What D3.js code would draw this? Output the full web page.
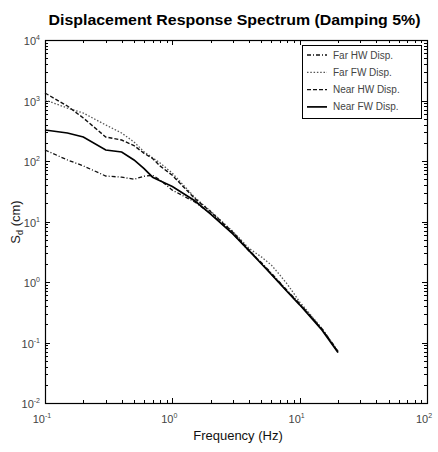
<!DOCTYPE html>
<html>
<head>
<meta charset="utf-8">
<script src="https://cdn.jsdelivr.net/npm/d3@7"></script>
<style>
  html, body { margin: 0; padding: 0; background: #fff; }
  svg { display: block; }
  text { font-family: "Liberation Sans", Arial, sans-serif; }
</style>
</head>
<body>
<svg id="chart" width="438" height="452"></svg>
<script>
// Frequencies (Hz) at which the spectra are sampled
const frequencies = [0.1, 0.15, 0.2, 0.3, 0.4, 0.5, 0.6, 0.7, 0.8, 1.0, 1.5, 2, 3, 4, 5, 6, 7, 8, 10, 15, 20];

// Spectral displacement Sd (cm), one array per record
const farHW  = [152, 104, 83, 56.5, 54, 50, 56, 58, 48.5, 33, 21, 13.5, 6.3, 3.25, 2.1, 1.4, 0.98, 0.72, 0.44, 0.168, 0.072];
const farFW  = [1019, 751, 621, 394, 290, 206, 142, 113, 93, 63, 25, 14.8, 6.8, 3.6, 2.6, 1.9, 1.3, 0.92, 0.47, 0.17, 0.071];
const nearHW = [1330, 811, 514, 249, 222, 180, 134, 110, 83, 58, 24, 14.5, 6.6, 3.4, 2.05, 1.35, 0.95, 0.70, 0.43, 0.165, 0.070];
const nearFW = [325, 290, 249, 152, 141, 104, 75, 54, 47, 38, 22, 13.2, 6.2, 3.3, 2.0, 1.33, 0.94, 0.69, 0.42, 0.16, 0.068];

const seriesNames = ["Far HW Disp.", "Far FW Disp.", "Near HW Disp.", "Near FW Disp."];
const seriesValues = [farHW, farFW, nearHW, nearFW];
const seriesDash = ["4,2,1,2", "1.5,1.8", "4,2", null];
const seriesWidth = [1.3, 1.3, 1.4, 1.7];
const seriesColor = ["#111", "#555", "#111", "#000"];

// Axis decades
const xDecades = [-1, 0, 1, 2];
const yDecades = [-2, -1, 0, 1, 2, 3, 4];

const svg = d3.select("#chart");
const plotLeft = 45, plotRight = 427, plotTop = 40, plotBottom = 403;

const x = d3.scaleLog().domain([0.1, 100]).range([plotLeft, plotRight]);
const y = d3.scaleLog().domain([0.01, 10000]).range([plotBottom, plotTop]);

// Minor and major tick values per axis
function logTicks(scale) {
  const [a, b] = scale.domain();
  const out = [];
  for (let e = Math.round(Math.log10(a)); e < Math.round(Math.log10(b)); e++) {
    for (let m = 1; m < 10; m++) out.push({ v: m * Math.pow(10, e), major: m === 1 });
  }
  out.push({ v: b, major: true });
  return out;
}

const tickG = svg.append("g").attr("stroke", "#000").attr("stroke-width", 1);
logTicks(x).forEach(t => {
  const px = Math.round(x(t.v)) + 0.5;
  const len = t.major ? 5 : 3;
  tickG.append("line").attr("x1", px).attr("x2", px).attr("y1", plotBottom).attr("y2", plotBottom - len);
  tickG.append("line").attr("x1", px).attr("x2", px).attr("y1", plotTop).attr("y2", plotTop + len);
});
logTicks(y).forEach(t => {
  const py = Math.round(y(t.v)) + 0.5;
  const len = t.major ? 5 : 3;
  tickG.append("line").attr("x1", plotLeft).attr("x2", plotLeft + len).attr("y1", py).attr("y2", py);
  tickG.append("line").attr("x1", plotRight).attr("x2", plotRight - len).attr("y1", py).attr("y2", py);
});

// Plot frame
svg.append("rect")
  .attr("x", plotLeft + 0.5).attr("y", plotTop + 0.5)
  .attr("width", plotRight - plotLeft).attr("height", plotBottom - plotTop)
  .attr("fill", "none").attr("stroke", "#000").attr("stroke-width", 1.2);

// Tick labels as 10 with superscript exponent
function powLabel(g, px, py, exp, anchor) {
  const t = g.append("text").attr("x", px).attr("y", py)
    .attr("text-anchor", anchor).attr("font-size", 11).attr("fill", "#444");
  t.append("tspan").text("10");
  t.append("tspan").attr("font-size", 7).attr("dy", -5).text(exp);
}
const labelG = svg.append("g");
xDecades.forEach(e => powLabel(labelG, x(Math.pow(10, e)) - 3, plotBottom + 20, e, "middle"));
yDecades.forEach(e => powLabel(labelG, plotLeft - 5, y(Math.pow(10, e)) + 5, e, "end"));

// Spectra
const line = d3.line()
  .x((d, i) => x(frequencies[i]))
  .y(d => y(d))
  .curve(d3.curveLinear);

seriesValues.forEach((vals, k) => {
  svg.append("path")
    .datum(vals)
    .attr("d", line)
    .attr("fill", "none")
    .attr("stroke", seriesColor[k])
    .attr("stroke-width", seriesWidth[k])
    .attr("stroke-dasharray", seriesDash[k]);
});

// Legend
const lg = svg.append("g");
lg.append("rect").attr("x", 302.5).attr("y", 45.5).attr("width", 119).attr("height", 73)
  .attr("fill", "#fff").attr("stroke", "#000").attr("stroke-width", 1);
seriesNames.forEach((name, k) => {
  const ly = 55 + k * 17.3;
  lg.append("line").attr("x1", 307).attr("x2", 327).attr("y1", ly).attr("y2", ly)
    .attr("stroke", seriesColor[k]).attr("stroke-width", seriesWidth[k])
    .attr("stroke-dasharray", seriesDash[k]);
  lg.append("text").attr("x", 333).attr("y", ly + 3.5)
    .attr("font-size", 10).attr("fill", "#444").text(name);
});

// Title and axis titles
svg.append("text").attr("x", 234.5).attr("y", 25)
  .attr("text-anchor", "middle").attr("font-size", 15).attr("font-weight", "bold")
  .attr("textLength", 372).attr("lengthAdjust", "spacingAndGlyphs")
  .text("Displacement Response Spectrum (Damping 5%)");

svg.append("text").attr("x", 238).attr("y", 440)
  .attr("text-anchor", "middle").attr("font-size", 13).attr("fill", "#111")
  .text("Frequency (Hz)");

const yl = svg.append("text")
  .attr("transform", "translate(20,222) rotate(-90)")
  .attr("text-anchor", "middle").attr("font-size", 13).attr("fill", "#222");
yl.append("tspan").text("S");
yl.append("tspan").attr("font-size", 9).attr("dy", 3).text("d");
yl.append("tspan").attr("dy", -3).text(" (cm)");
</script>
</body>
</html>
